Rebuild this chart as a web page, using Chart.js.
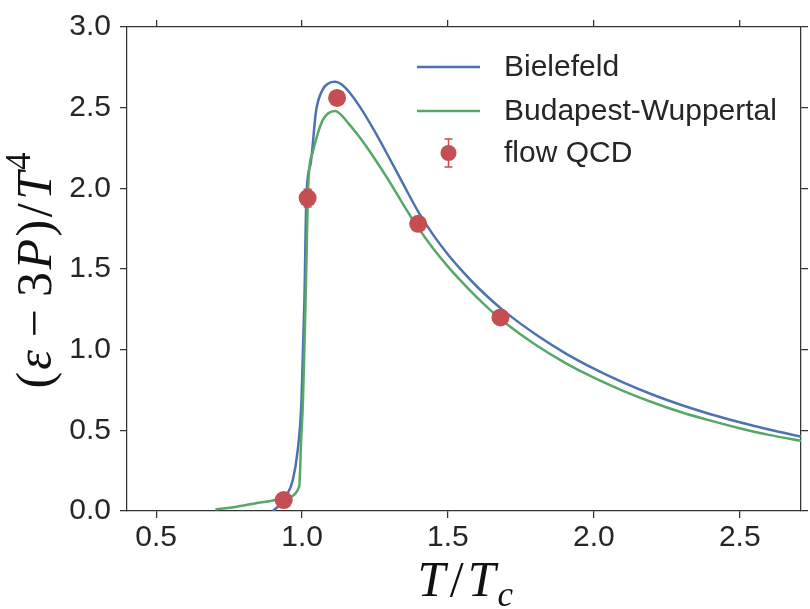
<!DOCTYPE html>
<html>
<head>
<meta charset="utf-8">
<script src="https://cdn.jsdelivr.net/npm/chart.js@4"></script>
<style>
  html, body { margin: 0; padding: 0; background: #fff; }
</style>
</head>
<body>
<canvas id="grafico" width="810" height="609"></canvas>
<script>
// Dados (T/Tc e (e-3P)/T^4)
const tBielefeld = [0.90, 0.924, 0.945, 0.968, 0.985, 0.998, 1.008, 1.015, 1.03, 1.048, 1.07, 1.09, 1.113, 1.135, 1.16, 1.2, 1.25, 1.3, 1.35, 1.4, 1.45, 1.5, 1.55, 1.6, 1.65, 1.7, 1.8, 1.9, 2.0, 2.1, 2.2, 2.3, 2.4, 2.5, 2.6, 2.72];
const eBielefeld = [0.0, 0.04, 0.09, 0.19, 0.375, 0.68, 1.30, 1.95, 2.16, 2.48, 2.61, 2.65, 2.66, 2.645, 2.60, 2.50, 2.35, 2.185, 2.015, 1.85, 1.71, 1.59, 1.485, 1.39, 1.305, 1.228, 1.095, 0.98, 0.882, 0.797, 0.722, 0.657, 0.60, 0.55, 0.505, 0.457];

const tBudapest = [0.703, 0.78, 0.846, 0.90, 0.947, 0.99, 0.997, 1.003, 1.012, 1.022, 1.036, 1.07, 1.113, 1.16, 1.2, 1.25, 1.3, 1.35, 1.4, 1.45, 1.5, 1.55, 1.6, 1.65, 1.7, 1.8, 1.9, 2.0, 2.1, 2.2, 2.3, 2.4, 2.5, 2.6, 2.72];
const eBudapest = [0.01, 0.028, 0.05, 0.065, 0.085, 0.15, 0.44, 0.68, 1.30, 2.05, 2.22, 2.42, 2.48, 2.40, 2.31, 2.18, 2.04, 1.89, 1.75, 1.625, 1.515, 1.415, 1.322, 1.237, 1.16, 1.03, 0.92, 0.826, 0.745, 0.674, 0.612, 0.56, 0.513, 0.472, 0.432];

const tFlow = [0.937, 1.019, 1.12, 1.398, 1.68];
const eFlow = [0.068, 1.94, 2.56, 1.78, 1.20];
const errFlow = [0.01, 0.055, 0.03, 0.02, 0.02];

const xTicks = [0.5, 1.0, 1.5, 2.0, 2.5];
const yTicks = [0.0, 0.5, 1.0, 1.5, 2.0, 2.5, 3.0];

const azul = "#4C72B0";
const verde = "#55A868";
const vermelho = "#C44E52";
const eixoCor = "#333333";
const textoCor = "#262626";
const fonteTick = { family: "'Liberation Sans', Arial, sans-serif", size: 30 };
const fonteMat = "'Liberation Serif', 'Times New Roman', serif";

const pares = (xs, ys) => xs.map((x, i) => ({ x: x, y: ys[i] }));

// escreve texto misto (italico / sobrescrito / subscrito)
function textoMisto(ctx, partes, size, cx, cy) {
  const fontePara = (p) =>
    (p.it ? "italic " : "") + Math.round(size * (p.esc || 1)) + "px " + fonteMat;
  let total = 0;
  partes.forEach((p) => {
    ctx.font = fontePara(p);
    p.w = ctx.measureText(p.t).width + (p.extra || 0) * size;
    total += p.w;
  });
  let x = cx - total / 2;
  partes.forEach((p) => {
    ctx.font = fontePara(p);
    ctx.fillText(p.t, x + ((p.extra || 0) * size) / 2, cy + (p.dy || 0) * size);
    x += p.w;
  });
}

const titulos = {
  id: "titulos",
  afterDraw(chart) {
    const { ctx, chartArea } = chart;
    ctx.save();
    ctx.fillStyle = "#111";
    ctx.textBaseline = "alphabetic";
    ctx.textAlign = "left";
    // eixo x
    textoMisto(
      ctx,
      [
        { t: "T", it: true, extra: 0.1 },
        { t: "/", extra: 0.08 },
        { t: "T", it: true, extra: 0.08 },
        { t: "c", it: true, esc: 0.7, dy: 0.2 },
      ],
      50,
      (chartArea.left + chartArea.right) / 2,
      596
    );
    // eixo y
    ctx.translate(51, 271);
    ctx.rotate(-Math.PI / 2);
    textoMisto(
      ctx,
      [
        { t: "(", extra: 0.04 },
        { t: "ε", it: true, extra: 0.04 },
        { t: "−", extra: 0.46 },
        { t: "3", extra: 0.04 },
        { t: "P", it: true, extra: 0.06 },
        { t: ")", extra: 0.04 },
        { t: "/", extra: 0.06 },
        { t: "T", it: true, extra: 0.08 },
        { t: "4", esc: 0.7, dy: -0.42 },
      ],
      50,
      0,
      0
    );
    ctx.restore();
  },
};

const barrasErro = {
  id: "barrasErro",
  afterDatasetsDraw(chart) {
    const ctx = chart.ctx;
    const sx = chart.scales.x;
    const sy = chart.scales.y;
    ctx.save();
    ctx.strokeStyle = vermelho;
    ctx.lineWidth = 1.5;
    tFlow.forEach((t, i) => {
      const px = sx.getPixelForValue(t);
      const y1 = sy.getPixelForValue(eFlow[i] - errFlow[i]);
      const y2 = sy.getPixelForValue(eFlow[i] + errFlow[i]);
      ctx.beginPath();
      ctx.moveTo(px, y1);
      ctx.lineTo(px, y2);
      ctx.moveTo(px - 4, y1);
      ctx.lineTo(px + 4, y1);
      ctx.moveTo(px - 4, y2);
      ctx.lineTo(px + 4, y2);
      ctx.stroke();
    });
    ctx.restore();
  },
};

// legenda dentro da area do grafico
const legenda = {
  id: "legenda",
  afterDraw(chart) {
    const { ctx, chartArea } = chart;
    const x0 = chartArea.left + 290;
    const x1 = chartArea.left + 353;
    const xt = chartArea.left + 377;
    const ys = [chartArea.top + 40, chartArea.top + 84, chartArea.top + 126];
    ctx.save();
    ctx.font = fonteTick.size + "px " + fonteTick.family;
    ctx.textBaseline = "middle";
    ctx.fillStyle = textoCor;
    chart.data.datasets.forEach((ds, i) => {
      const y = ys[i];
      if (ds.showLine === false) {
        const xm = (x0 + x1) / 2;
        ctx.strokeStyle = vermelho;
        ctx.lineWidth = 1.5;
        ctx.beginPath();
        ctx.moveTo(xm, y - 14);
        ctx.lineTo(xm, y + 14);
        ctx.moveTo(xm - 4, y - 14);
        ctx.lineTo(xm + 4, y - 14);
        ctx.moveTo(xm - 4, y + 14);
        ctx.lineTo(xm + 4, y + 14);
        ctx.stroke();
        ctx.fillStyle = vermelho;
        ctx.beginPath();
        ctx.arc(xm, y, 8, 0, Math.PI * 2);
        ctx.fill();
      } else {
        ctx.strokeStyle = ds.borderColor;
        ctx.lineWidth = 2.5;
        ctx.beginPath();
        ctx.moveTo(x0, y);
        ctx.lineTo(x1, y);
        ctx.stroke();
      }
      ctx.fillStyle = textoCor;
      ctx.fillText(ds.label, xt, y + 1);
    });
    ctx.restore();
  },
};

const eixoBase = {
  type: "linear",
  border: { color: eixoCor, width: 1.25 },
  grid: {
    drawOnChartArea: false,
    drawTicks: true,
    tickLength: 7,
    color: eixoCor,
    lineWidth: 1.25,
  },
};

const grafico = new Chart(document.getElementById("grafico"), {
  type: "scatter",
  data: {
    datasets: [
      {
        label: "Bielefeld",
        data: pares(tBielefeld, eBielefeld),
        showLine: true,
        borderColor: azul,
        borderWidth: 2.5,
        pointRadius: 0,
        cubicInterpolationMode: "monotone",
        order: 2,
      },
      {
        label: "Budapest-Wuppertal",
        data: pares(tBudapest, eBudapest),
        showLine: true,
        borderColor: verde,
        borderWidth: 2.5,
        pointRadius: 0,
        cubicInterpolationMode: "monotone",
        order: 1,
      },
      {
        label: "flow QCD",
        data: pares(tFlow, eFlow),
        showLine: false,
        backgroundColor: vermelho,
        borderWidth: 0,
        pointRadius: 9,
        clip: false,
        order: 0,
      },
    ],
  },
  options: {
    responsive: false,
    animation: false,
    events: [],
    layout: { padding: 0 },
    plugins: {
      legend: { display: false },
      tooltip: { enabled: false },
    },
    scales: {
      x: {
        ...eixoBase,
        position: "bottom",
        min: 0.4,
        max: 2.71,
        afterBuildTicks: (s) => {
          s.ticks = xTicks.map((v) => ({ value: v }));
        },
        afterFit: (s) => {
          s.height = 98;
        },
        ticks: {
          font: fonteTick,
          color: textoCor,
          padding: 2,
          maxRotation: 0,
          callback: (v) => Number(v).toFixed(1),
        },
      },
      xTopo: {
        ...eixoBase,
        position: "top",
        min: 0.4,
        max: 2.71,
        afterBuildTicks: (s) => {
          s.ticks = xTicks.map((v) => ({ value: v }));
        },
        afterFit: (s) => {
          s.height = 23;
        },
        ticks: { display: false },
      },
      y: {
        ...eixoBase,
        position: "left",
        min: 0,
        max: 3,
        afterBuildTicks: (s) => {
          s.ticks = yTicks.map((v) => ({ value: v }));
        },
        afterFit: (s) => {
          s.width = 127;
        },
        ticks: {
          font: fonteTick,
          color: textoCor,
          padding: 9,
          callback: (v) => Number(v).toFixed(1),
        },
      },
      yDireita: {
        ...eixoBase,
        position: "right",
        min: 0,
        max: 3,
        afterBuildTicks: (s) => {
          s.ticks = yTicks.map((v) => ({ value: v }));
        },
        afterFit: (s) => {
          s.width = 2;
        },
        ticks: { display: false },
      },
    },
  },
  plugins: [barrasErro, legenda, titulos],
});
</script>
</body>
</html>
